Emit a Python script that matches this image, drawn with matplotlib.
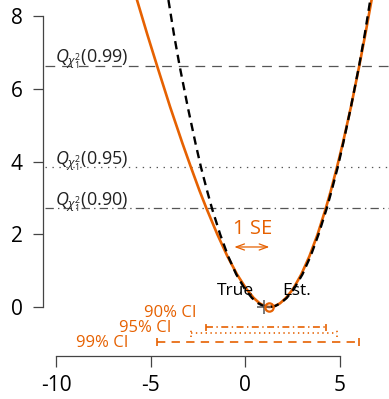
import matplotlib
matplotlib.use("Agg")
import matplotlib.pyplot as plt

plt.rcParams['font.family'] = ['Open Sans', 'DejaVu Sans']
plt.rcParams['mathtext.fontset'] = 'custom'
plt.rcParams['mathtext.rm'] = 'Open Sans'
plt.rcParams['mathtext.it'] = 'Open Sans:italic'
plt.rcParams['axes.unicode_minus'] = False
plt.rcParams['lines.scale_dashes'] = False

ORANGE = '#E66101'
GREY = '#555555'

# estimate, true value and standard error
est = 1.27
true_val = 0.97
se = 1.85

# chi-square(1) quantiles and their labels
q_levels = [6.63, 3.84, 2.71]
q_names = ['0.99', '0.95', '0.90']
q_styles = [(0, (7, 5)), (0, (1, 4)), (0, (6, 3, 1, 3))]

# likelihood ratio statistic (orange)
lr_x = [-5.72, -5.18, -4.66, -3.97, -3.32, -2.87, -2.42, -2.05, -1.48, -0.95,
        -0.44, 0.05, 0.44, 0.76, 1.00, 1.12, 1.27,
        1.445, 1.57, 1.83, 2.15, 2.53, 2.96, 3.39, 3.82, 4.25, 4.52, 4.84,
        5.15, 5.58, 6.02, 6.34, 6.67]
lr_y = [8.44, 7.5, 6.63, 5.5, 4.5, 3.84, 3.2, 2.71, 2.0, 1.4,
        0.9, 0.5, 0.25, 0.1, 0.03, 0.01, 0.0,
        0.01, 0.03, 0.1, 0.25, 0.5, 0.9, 1.4, 2.0, 2.71, 3.2, 3.84,
        4.5, 5.5, 6.63, 7.5, 8.44]

# quadratic (Wald) approximation (black dashed)
wald_x = [-4.06, -3.77, -3.47, -3.04, -2.63, -2.34, -2.02, -1.76, -1.33, -0.91,
          -0.48, -0.03, 0.35, 0.69, 0.95, 1.27,
          1.59, 1.85, 2.19, 2.57, 3.02, 3.45, 3.87, 4.30, 4.56, 4.88, 5.17,
          5.58, 6.01, 6.31, 6.60]
wald_y = [8.44, 7.5, 6.63, 5.5, 4.5, 3.84, 3.2, 2.71, 2.0, 1.4,
          0.9, 0.5, 0.25, 0.1, 0.03, 0.0,
          0.03, 0.1, 0.25, 0.5, 0.9, 1.4, 2.0, 2.71, 3.2, 3.84, 4.5,
          5.5, 6.63, 7.5, 8.44]

# likelihood ratio intervals
ci_names = ['90% CI', '95% CI', '99% CI']
ci_lo = [-2.05, -2.87, -4.66]
ci_hi = [4.25, 4.84, 6.02]
ci_y = [-0.55, -0.72, -0.97]
ci_styles = [(0, (5, 2.5, 1, 2.5)), (0, (1, 2.5)), (0, (6, 4.5))]
ci_lab_x = [-2.6, -3.92, -6.19]
ci_lab_y = [-0.17, -0.58, -0.99]

fig = plt.figure(figsize=(3.89, 3.99), dpi=100)
ax = fig.add_axes([43 / 389, 43 / 399, 346 / 389, 356 / 399])
ax.set_xlim(-10.685, 7.59)
ax.set_ylim(-1.347, 8.44)

for lev, nm, ls in zip(q_levels, q_names, q_styles):
    ax.hlines(lev, -10.58, 8, colors=GREY, lw=0.9, linestyles=[ls])
    ax.text(-10.05, lev + 0.08, r'$Q_{\chi^2_1}$(' + nm + ')', fontsize=13,
            color='#222222', ha='left', va='baseline')

ax.plot(lr_x, lr_y, color=ORANGE, lw=1.9, solid_joinstyle='round')
ax.plot(wald_x, wald_y, color='black', lw=1.7, ls=(0, (6, 4)))

ax.plot([true_val], [0], marker='+', color=GREY, ms=10, mew=1.1)
ax.plot([est], [0], marker='o', mfc='none', mec=ORANGE, ms=6, mew=1.6)
ax.text(true_val - 0.5, 0.44, 'True', fontsize=12.5, ha='right', va='center')
ax.text(est + 0.66, 0.44, 'Est.', fontsize=12.5, ha='left', va='center')

# one standard error, drawn to the left of the estimate
ax.annotate('', xy=(est - se, 1.65), xytext=(est, 1.65),
            arrowprops=dict(arrowstyle='<->,head_length=0.6,head_width=0.22',
                            color=ORANGE, lw=0.9, shrinkA=0, shrinkB=0,
                            mutation_scale=10))
ax.text(est - se / 2 + 0.05, 2.14, '1 SE', fontsize=14.5, color=ORANGE,
        ha='center', va='center')

tick_h = 0.11
for nm, lo, hi, yy, ls, lx, ly in zip(ci_names, ci_lo, ci_hi, ci_y, ci_styles,
                                      ci_lab_x, ci_lab_y):
    ax.plot([lo, hi], [yy, yy], color=ORANGE, lw=1.2, ls=ls)
    ax.plot([lo, lo], [yy - tick_h, yy + tick_h], color=ORANGE, lw=1.2, ls=ls)
    ax.plot([hi, hi], [yy - tick_h, yy + tick_h], color=ORANGE, lw=1.2, ls=ls)
    ax.text(lx, ly, nm, fontsize=12, color=ORANGE, ha='right', va='center')

for s in ['top', 'right']:
    ax.spines[s].set_visible(False)
ax.spines['left'].set_bounds(0, 8)
ax.spines['bottom'].set_bounds(-10, 5)
for s in ['left', 'bottom']:
    ax.spines[s].set_color('#444444')
    ax.spines[s].set_linewidth(0.9)
ax.set_xticks([-10, -5, 0, 5])
ax.set_yticks([0, 2, 4, 6, 8])
ax.tick_params(axis='both', colors='#444444', labelcolor='black', labelsize=15,
               width=0.9)
ax.tick_params(axis='y', length=7.5, pad=7)
ax.tick_params(axis='x', length=8, pad=6)

fig.savefig('out.png', dpi=100)
